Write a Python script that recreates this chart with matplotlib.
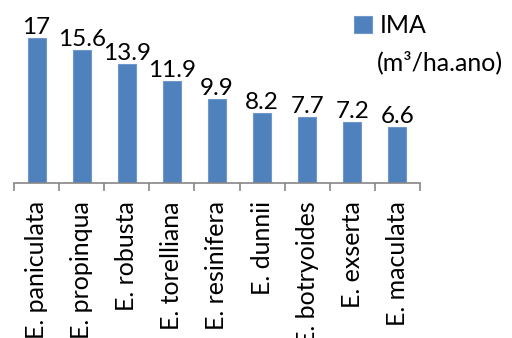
import numpy as np
import matplotlib.pyplot as plt

species = ["E. paniculata", "E. propinqua", "E. robusta", "E. torelliana",
           "E. resinifera", "E. dunnii", "E. botryoides", "E. exserta",
           "E. maculata"]
ima = [17, 15.6, 13.9, 11.9, 9.9, 8.2, 7.7, 7.2, 6.6]

plt.rcParams['font.family'] = ['Lato', 'DejaVu Sans']

fig = plt.figure(figsize=(5.12, 3.38), dpi=100)
ax = fig.add_axes([14 / 512, 1 - 183 / 338, 406 / 512, 170.6 / 338])

x = np.arange(len(species))
bars = ax.bar(x, ima, width=0.4, color="#4F81BD", edgecolor="#6F97C9",
              linewidth=0.8, label="IMA")
for xi, v in zip(x, ima):
    ax.annotate(f"{v:g}", (xi, v), xytext=(0, 0), textcoords="offset points",
                ha="center", va="bottom", fontsize=17.5)

ax.set_xlim(-0.5, len(species) - 0.5)
ax.set_ylim(0, 20)
for s in ["top", "right", "left"]:
    ax.spines[s].set_visible(False)
ax.spines["bottom"].set_color("#868686")
ax.spines["bottom"].set_linewidth(1.2)
ax.set_yticks([])
ax.set_xticks(x)
ax.set_xticklabels(species, rotation=90, fontsize=18, va="top")
ax.tick_params(axis="x", length=0, pad=13)
ax.set_xticks(np.arange(len(species) + 1) - 0.5, minor=True)
ax.tick_params(axis="x", which="minor", length=6, width=1.2, color="#868686",
               direction="out")

ax.legend(loc="upper left", bbox_to_anchor=(354 / 512, 1 - 14 / 338),
          bbox_transform=fig.transFigure, frameon=False, fontsize=18,
          handlelength=0.7, handleheight=0.7, handletextpad=0.35,
          borderpad=0, borderaxespad=0)
fig.text(377 / 512, 1 - 62 / 338, "(m³/ha.ano)", fontsize=18, va="center")

fig.savefig("out.png", dpi=100)
